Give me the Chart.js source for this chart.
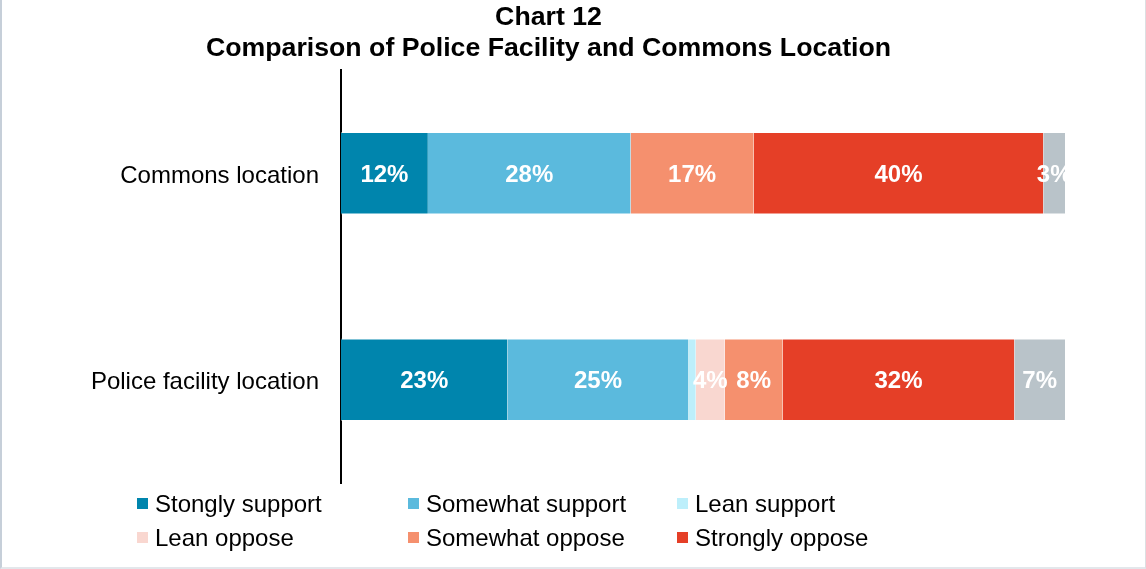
<!DOCTYPE html>
<html>
<head>
<meta charset="utf-8">
<script src="https://cdn.jsdelivr.net/npm/chart.js@4/dist/chart.umd.min.js"></script>
<style>
  html, body { margin: 0; padding: 0; background: #fff; }
  #wrap { position: relative; width: 1146px; height: 569px; }
  #frame { position: absolute; left: 0; top: 0; width: 1146px; height: 569px; box-sizing: border-box;
           border-left: 2px solid #c6cfd9; border-right: 1px solid #dcdfe2; border-bottom: 2px solid #e3e7eb;
           pointer-events: none; }
</style>
</head>
<body>
<div id="wrap">
  <canvas id="c" width="1146" height="569"></canvas>
  <div id="frame"></div>
</div>
<script>
// Survey responses (% of respondents) for each proposed location
const categories = ['Commons location', 'Police facility location'];
const seriesNames = ['Stongly support', 'Somewhat support', 'Lean support', 'Lean oppose', 'Somewhat oppose', 'Strongly oppose', "Don't know"];
const stronglySupport = [12, 23];
const somewhatSupport = [28, 25];
const leanSupport = [0, 1];
const leanOppose = [0, 4];
const somewhatOppose = [17, 8];
const stronglyOppose = [40, 32];
const dontKnow = [3, 7];
const seriesColors = ['#0085ad', '#5bbadd', '#bdeffb', '#f9d7d0', '#f5906e', '#e53f27', '#b9c3c9'];
const legendOrder = [0, 1, 2, 3, 4, 5];

const FONT = '"Liberation Sans", Arial, sans-serif';
const values = [stronglySupport, somewhatSupport, leanSupport, leanOppose, somewhatOppose, stronglyOppose, dontKnow];

const datasets = values.map((v, i) => ({
  label: seriesNames[i],
  data: v,
  backgroundColor: seriesColors[i],
  borderColor: 'rgba(255,255,255,0.45)',
  borderWidth: { top: 1, bottom: 1, left: 0, right: 0 },
  borderSkipped: false,
  barPercentage: 0.8,
  categoryPercentage: 0.5
}));

// Percentage labels centred in each segment
const segmentLabels = {
  id: 'segmentLabels',
  afterDatasetsDraw(chart) {
    const ctx = chart.ctx;
    ctx.save();
    ctx.font = 'bold 24px ' + FONT;
    ctx.fillStyle = '#ffffff';
    ctx.textAlign = 'center';
    ctx.textBaseline = 'middle';
    chart.data.datasets.forEach((ds, di) => {
      const meta = chart.getDatasetMeta(di);
      meta.data.forEach((bar, i) => {
        const v = ds.data[i];
        if (v < 3) return;
        const p = bar.getProps(['x', 'y', 'base'], true);
        ctx.fillText(v + '%', (p.x + p.base) / 2, p.y + 2);
      });
    });
    ctx.restore();
  }
};

// Two-row legend beneath the plot
const gridLegend = {
  id: 'gridLegend',
  afterDraw(chart) {
    const ctx = chart.ctx;
    const cols = [137, 408, 677];
    const rows = [504, 538];
    ctx.save();
    ctx.font = '24px ' + FONT;
    ctx.textBaseline = 'middle';
    ctx.textAlign = 'left';
    legendOrder.forEach((di, k) => {
      const x = cols[k % 3];
      const y = rows[Math.floor(k / 3)];
      ctx.fillStyle = seriesColors[di];
      ctx.fillRect(x, y - 6, 11, 11);
      ctx.fillStyle = '#000';
      ctx.fillText(seriesNames[di], x + 18, y + 1);
    });
    ctx.restore();
  }
};

new Chart(document.getElementById('c'), {
  type: 'bar',
  data: { labels: categories, datasets },
  options: {
    indexAxis: 'y',
    responsive: false,
    animation: false,
    layout: { padding: { left: 32, right: 81, top: 0, bottom: 86 } },
    plugins: {
      legend: { display: false },
      tooltip: { enabled: false },
      title: {
        display: true,
        text: ['Chart 12', 'Comparison of Police Facility and Commons Location'],
        color: '#000',
        font: { family: FONT, size: 26.7, weight: 'bold', lineHeight: 1.16 },
        padding: { top: 2, bottom: 6 }
      }
    },
    scales: {
      x: { stacked: true, min: 0, max: 100, display: false },
      y: {
        stacked: true,
        grid: { display: false, drawTicks: false },
        border: { display: true, color: '#000', width: 2 },
        ticks: { color: '#000', font: { family: FONT, size: 24 }, padding: 22, labelOffset: 3 },
        afterFit(scale) { scale.width = 309; }
      }
    }
  },
  plugins: [segmentLabels, gridLegend]
});
</script>
</body>
</html>
